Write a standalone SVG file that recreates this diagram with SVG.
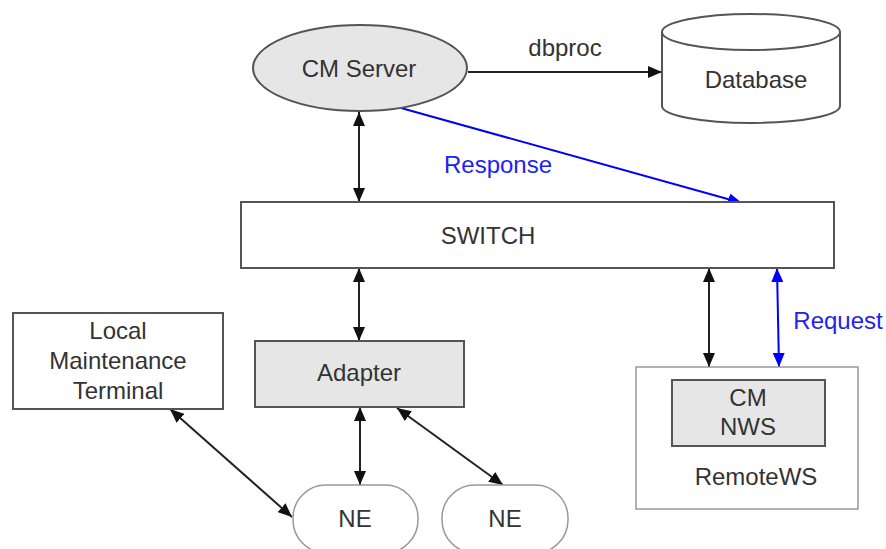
<svg xmlns="http://www.w3.org/2000/svg" width="886" height="549" viewBox="0 0 886 549">
<defs>
<marker id="ak" viewBox="0 0 14 12" refX="14" refY="6" markerWidth="14" markerHeight="12" markerUnits="userSpaceOnUse" orient="auto-start-reverse"><path d="M0,0 L14,6 L0,12 Z" fill="#111"/></marker>
<marker id="ab" viewBox="0 0 14 12" refX="14" refY="6" markerWidth="14" markerHeight="12" markerUnits="userSpaceOnUse" orient="auto-start-reverse"><path d="M0,0 L14,6 L0,12 Z" fill="#0000ff"/></marker>
</defs>
<style>
text{font-family:"Liberation Sans",Arial,sans-serif;font-size:24px;fill:#333;text-anchor:middle}
.blue{fill:#2222ee}
.box{stroke:#555;stroke-width:2}
.light{stroke:#999;stroke-width:1.5;fill:#fff}
.gray{fill:#e6e6e6}
.c{stroke:#222;stroke-width:2;fill:none}
.cb{stroke:#0000ff;stroke-width:2;fill:none}
</style>
<rect width="886" height="549" fill="#fff"/>
<g id="connectors">
<line class="c" x1="468" y1="72" x2="662" y2="72" marker-end="url(#ak)"/>
<line class="c" x1="359" y1="112" x2="359" y2="202" marker-start="url(#ak)" marker-end="url(#ak)"/>
<line class="cb" x1="401" y1="108" x2="742" y2="203" marker-end="url(#ab)"/>
<line class="c" x1="359" y1="268" x2="359" y2="341" marker-start="url(#ak)" marker-end="url(#ak)"/>
<line class="c" x1="360" y1="407" x2="360" y2="485" marker-start="url(#ak)" marker-end="url(#ak)"/>
<line class="c" x1="170" y1="409" x2="292" y2="517" marker-start="url(#ak)" marker-end="url(#ak)"/>
<line class="c" x1="397" y1="408" x2="503" y2="485" marker-start="url(#ak)" marker-end="url(#ak)"/>
<line class="c" x1="709" y1="268" x2="709" y2="367" marker-start="url(#ak)" marker-end="url(#ak)"/>
<line class="cb" x1="777" y1="268" x2="779" y2="367" marker-start="url(#ab)" marker-end="url(#ab)"/>
<text x="565" y="56">dbproc</text>
<text class="blue" x="498" y="173">Response</text>
<text class="blue" x="838" y="329">Request</text>
</g>
<g id="cmserver">
<ellipse class="box gray" cx="360" cy="68" rx="107" ry="43"/>
<text x="359" y="77">CM Server</text>
</g>
<g id="database">
<path class="box" fill="#fff" d="M662,32 L662,106 A89,17 0 0 0 840,106 L840,32"/>
<ellipse class="box" fill="#fff" cx="751" cy="32" rx="89" ry="18"/>
<text x="756" y="88">Database</text>
</g>
<g id="switch">
<rect class="box" fill="#fff" x="241" y="202" width="593" height="66"/>
<text x="488" y="244">SWITCH</text>
</g>
<g id="adapter">
<rect class="box gray" x="255" y="341" width="209" height="66"/>
<text x="359" y="381">Adapter</text>
</g>
<g id="lmt">
<rect class="box" fill="#fff" x="13" y="313" width="210" height="96"/>
<text x="118" y="339">Local</text>
<text x="118" y="369">Maintenance</text>
<text x="118" y="399">Terminal</text>
</g>
<g id="ne1">
<rect class="light" x="293" y="485" width="125" height="68" rx="33" ry="33"/>
<text x="355" y="527">NE</text>
</g>
<g id="ne2">
<rect class="light" x="442" y="485" width="126" height="68" rx="33" ry="33"/>
<text x="505" y="527">NE</text>
</g>
<g id="remotews">
<rect class="light" x="636" y="367" width="222" height="142"/>
<text x="756" y="485">RemoteWS</text>
</g>
<g id="cmnws">
<rect class="box gray" x="672" y="380" width="153" height="66"/>
<text x="748" y="406">CM</text>
<text x="748" y="435">NWS</text>
</g>
</svg>
